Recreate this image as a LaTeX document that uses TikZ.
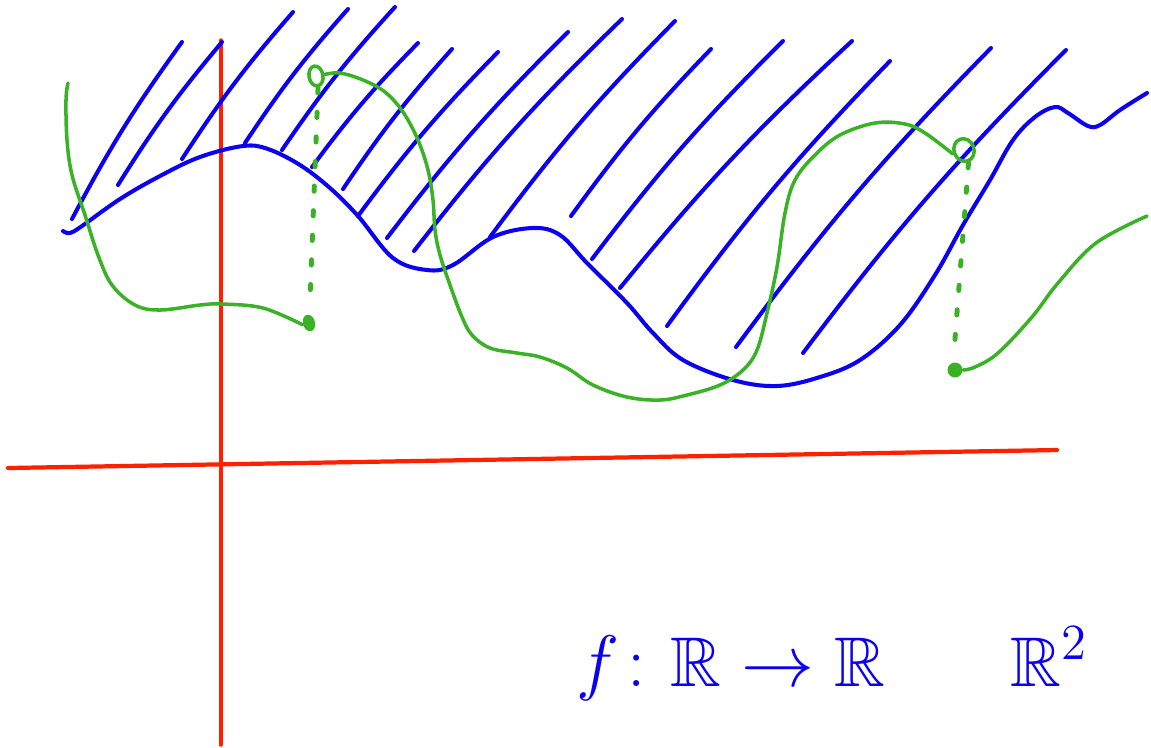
\documentclass[tikz,border=0pt]{standalone}
\usepackage{amsmath,amssymb}
\usepackage{tikz}
\usetikzlibrary{shapes.geometric, positioning}

\definecolor{stiftblau}{RGB}{12,0,240}
\definecolor{stiftgruen}{RGB}{58,178,38}
\definecolor{stiftrot}{RGB}{255,32,0}

\begin{document}
\begin{tikzpicture}[x=0.01cm, y=-0.01cm, line cap=round, line join=round,
		achse/.style={stiftrot, line width=1.2pt},
		rand/.style={stiftblau, line width=1.15pt},
		schraff/.style={stiftblau, line width=1.15pt},
		graph/.style={stiftgruen, line width=1pt},
		punkte/.style={stiftgruen, line width=1.4pt, dash pattern=on 1.5pt off 5.5pt},
		offen/.style={ellipse, draw=stiftgruen, line width=1pt, inner sep=0pt},
		voll/.style={ellipse, fill=stiftgruen, inner sep=0pt},
		schrift/.style={stiftblau, font=\fontsize{20}{24}\selectfont, inner sep=0pt}]
	\useasboundingbox (0,0) rectangle (1151,747);
	
	% Koordinatensystem
	\draw[achse] (8,468) -- (1057,450);
	\draw[achse, line width=1pt] (221,40) -- (221,745);
	
	% Schraffur
	\foreach \xa/\ya/\xb/\yb in {72/219/182/42, 118/185/222/42, 182/159/293/12,
		245/143/348/9, 282/150/395/7, 312/167/418/43, 343/189/452/49,
		358/216/498/52, 387/238/568/32, 414/251/622/19, 490/237/675/21,
		571/216/711/49, 592/259/783/41, 620/288/852/41, 667/326/890/61,
		736/347/991/48, 803/353/1066/50}
		\draw[schraff] (\xa,\ya) to[bend left=4] (\xb,\yb);
	
	% Rand
	\draw[rand] plot[smooth, tension=0.6] coordinates {(63,231) (70,233) (82,226)
		(120,199) (160,176) (200,157) (243,146) (268,149) (300,165) (330,188)
		(358,216) (393,258) (427,270) (453,265) (493,237) (533,228) (560,235)
		(587,263) (627,303) (653,333) (683,360) (733,380) (777,386) (820,377)
		(860,360) (900,325) (935,275) (963,225) (990,180) (1013,140) (1035,117)
		(1055,107) (1068,113) (1088,126) (1100,125) (1120,110) (1147,93)};
	
	% Punkte
	\node[voll, minimum width=0.12cm, minimum height=0.17cm, rotate=15] (v1) at (309,323) {};
	\node[offen, minimum width=0.14cm, minimum height=0.2cm, rotate=10] (o1) at (316,76) {};
	\node[offen, minimum width=0.2cm, minimum height=0.23cm, rotate=20] (o2) at (964,150) {};
	\node[voll, minimum width=0.15cm, minimum height=0.15cm] (v2) at (955,370) {};
	
	% Graph
	\draw[graph] plot[smooth, tension=0.6] coordinates {(68,83) (66,100) (67,140)
		(72,175) (85,215) (98,255) (112,285) (135,305) (160,310) (200,305) (222,304)
		(263,308) (v1.west)};
	\draw[graph] plot[smooth, tension=0.6] coordinates {(o1.east) (340,73) (363,80)
		(385,92) (403,112) (418,140) (428,170) (433,200) (435,230) (440,255)
		(450,285) (462,317) (472,335) (490,348) (517,353) (540,357) (567,368)
		(593,385) (627,397) (660,400) (687,395) (720,385) (743,370) (757,350)
		(767,313) (777,267) (785,213) (795,180) (815,155) (840,135) (875,123)
		(905,124) (925,133) (o2.west)};
	\draw[graph] plot[smooth, tension=0.6] coordinates {(v2.east) (975,367)
		(998,353) (1032,317) (1058,283) (1096,243) (1147,216)};
	
	% Sprünge
	\draw[punkte] (o1.south) -- (310,300);
	\draw[punkte] (o2.south) -- (954,352);
	
	% Beschriftung
	\node[schrift, anchor=base] (abb) at (731,686) {$f\colon \mathbb{R}\to\mathbb{R}$};
	\node[schrift, anchor=base] (ebene) at (1049,686) {$\mathbb{R}^2$};
\end{tikzpicture}
\end{document}
